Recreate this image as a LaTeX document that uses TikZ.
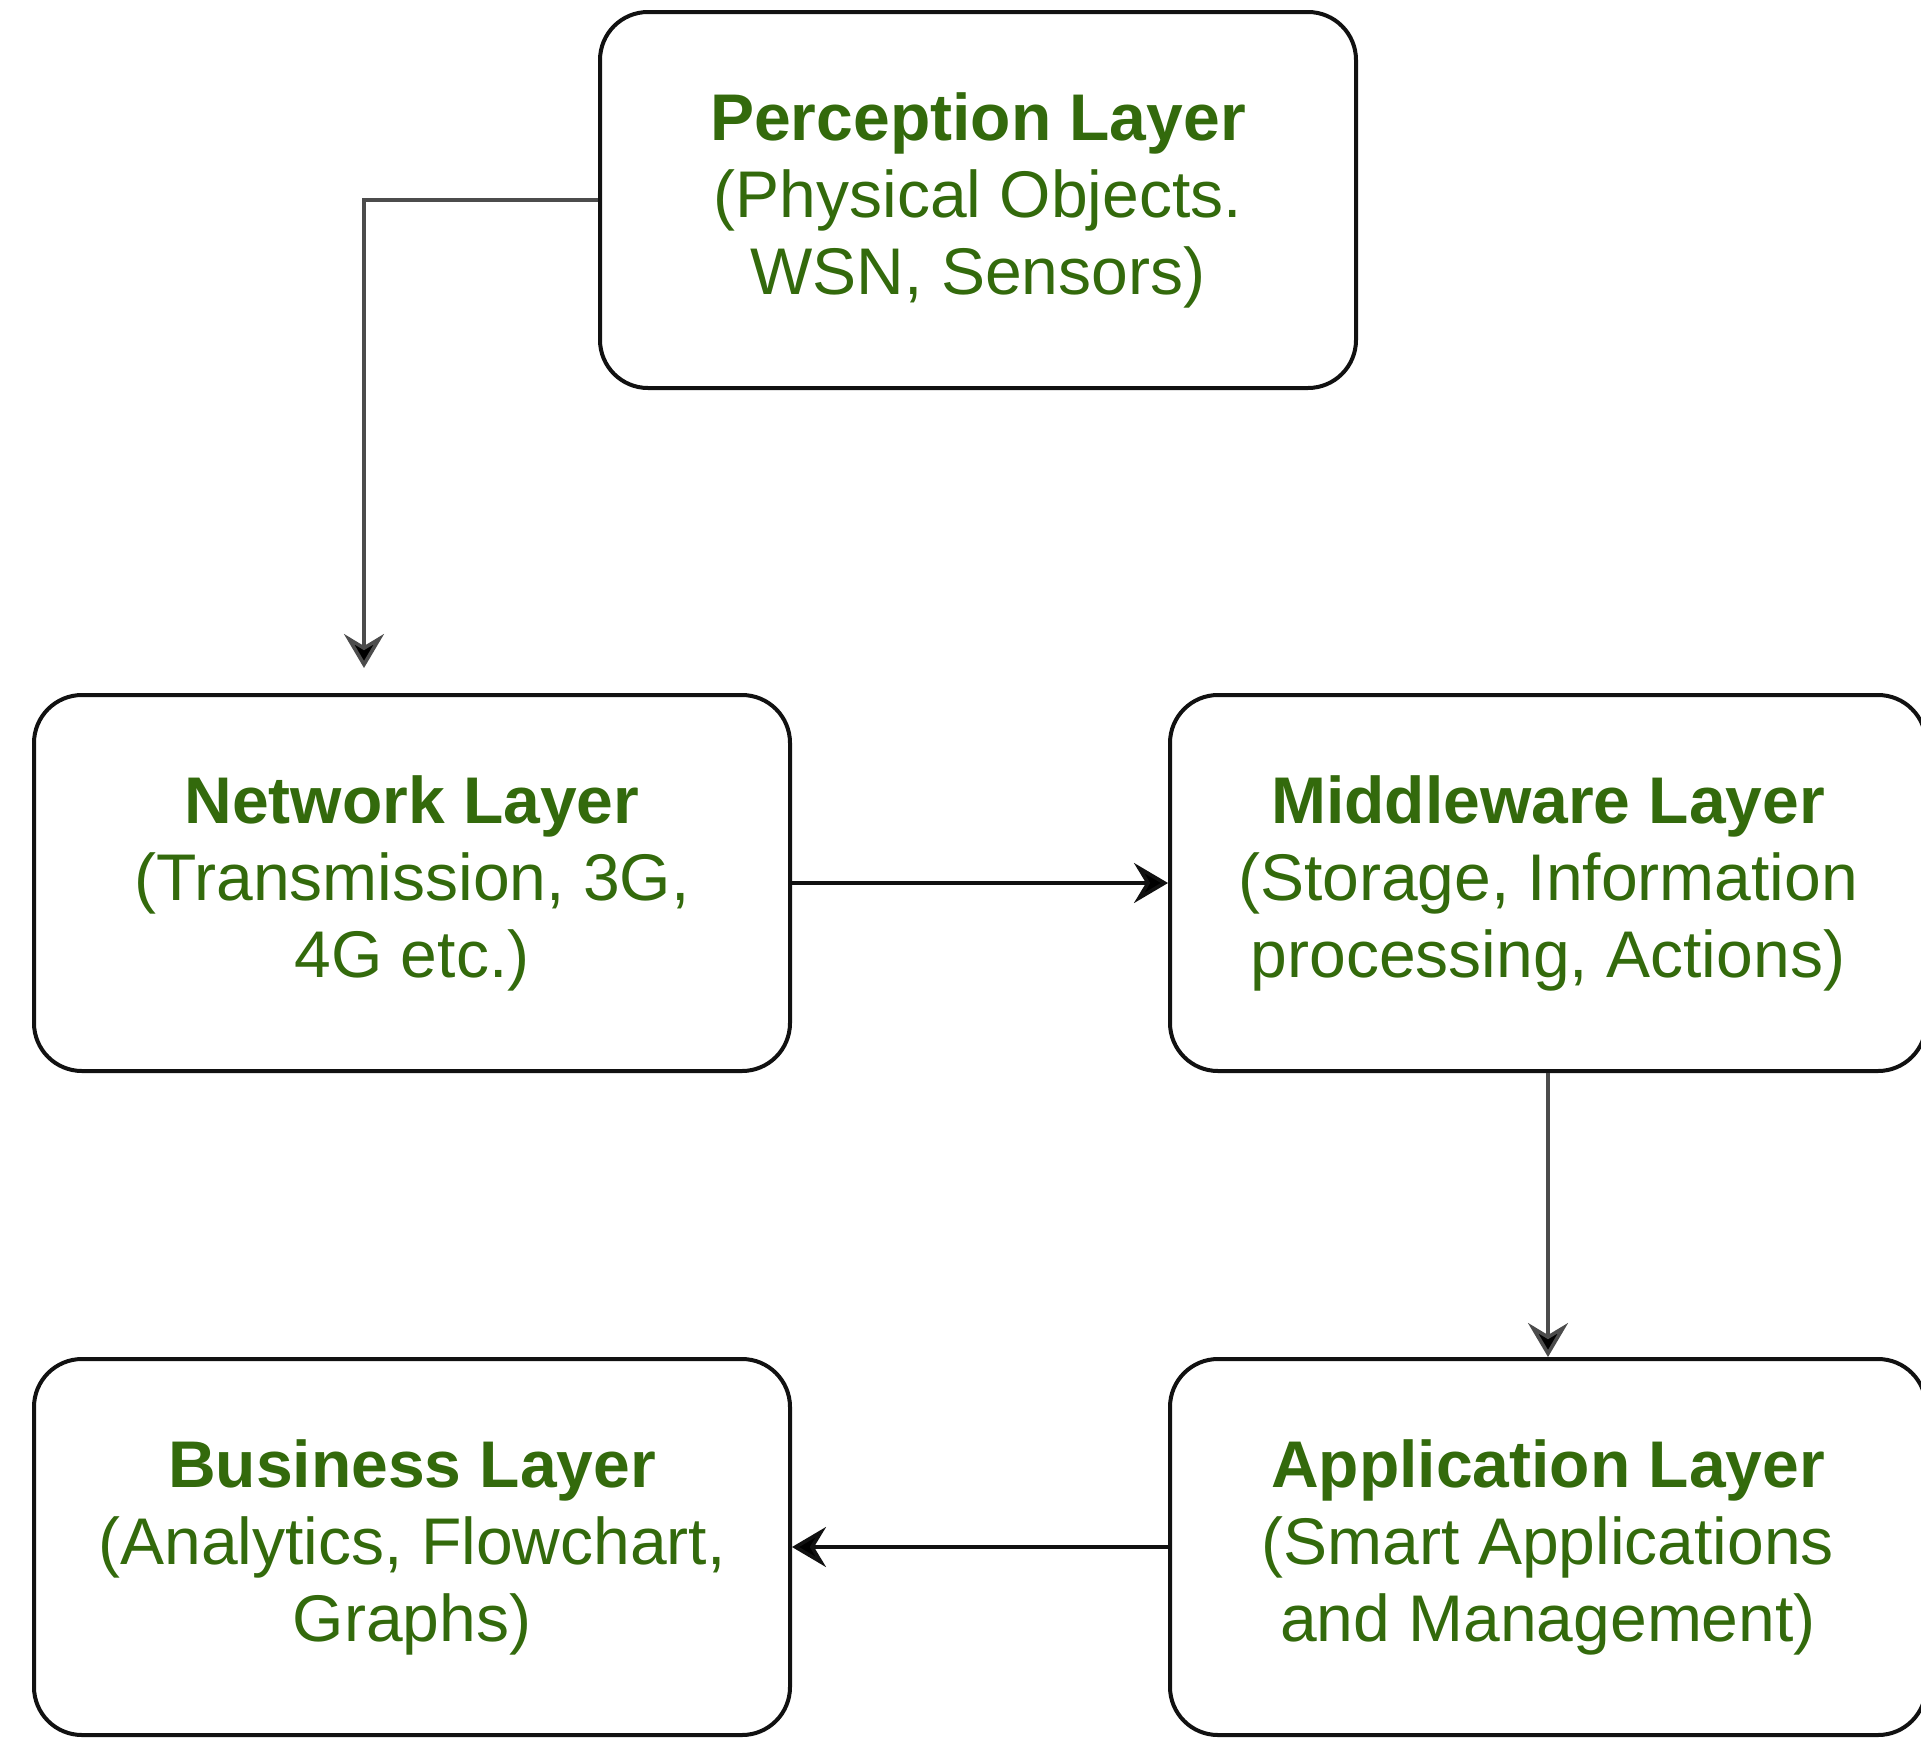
\documentclass[tikz,border=0pt]{standalone}
\usepackage{fontspec}
\setmainfont{Liberation Sans}
\usepackage{xcolor}
\definecolor{LayerGreen}{HTML}{336A0C}
\definecolor{EdgeBlack}{HTML}{111111}
\usetikzlibrary{arrows.meta, positioning}
\tikzset{
  % Box styles
  layerbox/.style={rectangle, rounded corners=24pt, draw=EdgeBlack, line width=2pt, fill=white, minimum width=378pt, minimum height=188pt, font=\fontsize{33}{38.5}\selectfont, text=LayerGreen, align=center},
  % Arrow styles
  arrow/.style={-{Stealth[length=17pt, width=20pt, inset=6pt, fill=black]}, line width=1.8pt, EdgeBlack},
  grayarrow/.style={arrow, draw=black!70}
}
\begin{document}
\begin{tikzpicture}[x=0.5pt, y=-0.5pt]
  \useasboundingbox (0,0) rectangle (1921,1740);

  % Layers
  \node[layerbox] (p1) at (978,200) {
    \textbf{Perception Layer}\\
    (Physical Objects.\\
    WSN, Sensors)
  };
  \node[layerbox] (n1) at (412,883) {
    \textbf{Network Layer}\\
    (Transmission, 3G,\\
    4G etc.)
  };
  \node[layerbox, right=188pt of n1] (m1) {
    \textbf{Middleware Layer}\\
    (Storage, Information\\
    processing, Actions)
  };
  \node[layerbox, below=142pt of n1] (b1) {
    \textbf{Business Layer}\\
    (Analytics, Flowchart,\\
    Graphs)
  };
  \node[layerbox, below=142pt of m1] (a1) {
    \textbf{Application Layer}\\
    (Smart Applications\\
    and Management)
  };

  % Connectors
  \coordinate (n1in) at (364,668);
  \draw[grayarrow] (p1.west) -| (n1in);
  \draw[arrow] (n1.east) -- (m1.west);
  \draw[grayarrow] (m1.south) -- (a1.north);
  \draw[arrow] (a1.west) -- (b1.east);
\end{tikzpicture}
\end{document}
